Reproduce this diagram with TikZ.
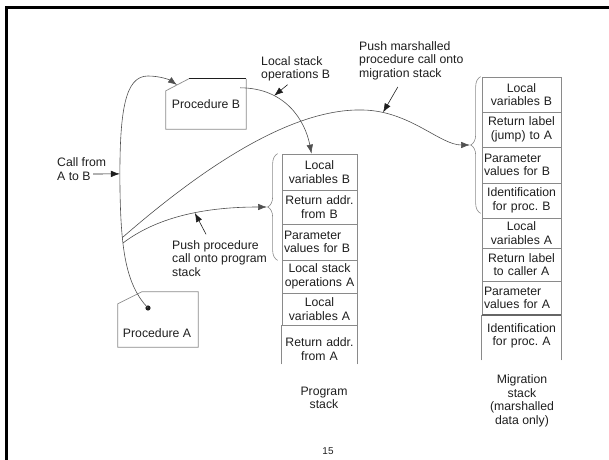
\documentclass[tikz,border=0pt]{standalone}
\usepackage{fontspec}
\setmainfont{Liberation Sans}
\usetikzlibrary{arrows.meta,calc,decorations.pathreplacing}
\definecolor{ink}{HTML}{1E1E1E}
\definecolor{cellgray}{HTML}{8A8A8A}
\definecolor{curvegray}{HTML}{505050}
\newcommand{\lblfont}{\fontsize{12.3}{13.6}\selectfont\frenchspacing}

\tikzset{
  cell/.style={draw=cellgray,line width=0.7bp,inner xsep=2bp,inner ysep=0pt,align=center,font=\lblfont,text=ink},
  pcell/.style={cell,text width=71bp},
  mcell/.style={cell,text width=75bp},
  opencell/.style={draw=none},
  lbl/.style={font=\lblfont,text=ink,align=left,inner sep=1bp},
  edgegray/.style={cellgray,line width=0.7bp},
  flow/.style={curvegray,line width=0.6bp},
  pointer/.style={ink,line width=0.6bp},
  curly/.style={cellgray,line width=0.6bp,decorate,decoration={brace,amplitude=10bp,aspect=0.5}},
}

\begin{document}
\begin{tikzpicture}[x=1bp,y=-1bp,>={Latex[length=9bp,width=6.5bp]}]
\useasboundingbox (0,0) rectangle (609,460);
\draw[line width=3bp] (6,460) -- (6,8) -- (609,8);

% the two procedures, with a cut corner
\node[lbl,align=center,minimum width=80bp,minimum height=50bp] (procB) at (206,104) {Procedure B};
\draw[edgegray] ([xshift=23bp]procB.north west) -- ([yshift=-12bp]procB.north west) -- (procB.south west) -- (procB.south east) -- (procB.north east);
\draw[ink,line width=0.7bp] ([xshift=23bp]procB.north west) -- (procB.north east);
\node[minimum width=80bp,minimum height=55bp,inner sep=0pt] (procA) at (158,319.5) {};
\draw[edgegray] ([yshift=-12bp]procA.north west) -- ([xshift=24bp]procA.north west) -- (procA.north east) -- (procA.south east) -- (procA.south west) -- cycle;
\node[lbl] (procAlbl) at (157,333) {Procedure A};
\coordinate (calldot) at (148,308);
\coordinate (procBin) at (177,85);
\fill[ink] (calldot) circle (2.6bp);

% program stack
\node[pcell,minimum height=36bp] (ps1) at (319.5,172) {Local\\variables B};
\node[pcell,minimum height=34bp] (ps2) at (319.5,207) {Return addr.\\from B};
\node[pcell,minimum height=36bp,align=left] (ps3) at (319.5,242) {Parameter\\values for B};
\node[pcell,minimum height=33bp] (ps4) at (319.5,276.5) {Local stack\\operations A};
\node[pcell,minimum height=32bp] (ps5) at (319.5,309) {Local\\variables A};
\node[pcell,opencell,minimum height=48bp] (ps6) at (319.5,349) {Return addr.\\from A};
\draw[edgegray] ([yshift=9bp]ps6.south west) -- (ps6.north west) ([yshift=9bp]ps6.south east) -- (ps6.north east);
\node[lbl,align=center] (pslbl) at (324,398) {Program\\stack};

% migration stack
\node[mcell,minimum height=35bp] (ms1) at (521.5,94.5) {Local\\variables B};
\node[mcell,minimum height=35bp] (ms2) at (521.5,129.5) {Return label\\(jump) to A};
\node[mcell,minimum height=36bp,align=left] (ms3) at (521.5,165) {Parameter\\values for B};
\node[mcell,minimum height=35bp] (ms4) at (521.5,200.5) {Identification\\for proc. B};
\node[mcell,minimum height=30bp] (ms5) at (521.5,233) {Local\\variables A};
\node[mcell,minimum height=33bp] (ms6) at (521.5,264.5) {Return label\\to caller A};
\node[mcell,minimum height=34bp,align=left] (ms7) at (521.5,298) {Parameter\\values for A};
\node[mcell,opencell,minimum height=48bp] (ms8) at (521.5,336) {Identification\\for proc. A};
\draw[edgegray] (ms8.south west) -- (ms7.south west) (ms8.south east) -- (ms7.south east);
\draw[black!60,line width=1.8bp] (ms7.south west) -- (ms7.south east);
\node[lbl,align=center] (mslbl) at (522,401) {Migration\\stack\\(marshalled\\data only)};

% braces round the pushed frames
\draw[curly] ([xshift=-4bp]ps3.south west) -- ([xshift=-4bp]ps1.north west);
\draw[curly] ([xshift=-1bp,yshift=5bp]ms4.south west) -- ([xshift=-1bp]ms1.north west);
\coordinate (psbrace) at (267,207);
\coordinate (msbrace) at (470,145);

% call from A to B and the two pushes
\draw[flow,->] (calldot) .. controls (126,285) and (121,250) .. (120,190)
  coordinate[pos=0.66] (forkprog) coordinate[pos=0.7] (forkmig)
  .. controls (119,110) and (125,76) .. (148,76) coordinate[pos=0.07] (callpt)
  .. controls (160,76) and (170,80) .. (procBin);
\draw[flow,->] (forkmig) .. controls (200,170) and (290,108) .. (363,110)
  .. controls (410,111) and (440,145) .. (msbrace) coordinate[pos=0.15] (pmpt);
\draw[flow,->] (forkprog) .. controls (160,215) and (210,207) .. (psbrace) coordinate[pos=0.55] (pppt);
\draw[flow,->] ([xshift=-6bp,yshift=-9bp]procB.north east) .. controls (285,88) and (305,120) .. ([xshift=-8bp]ps1.north) coordinate[pos=0.3] (lsoBpt);

% labels and their pointers
\node[lbl,anchor=west] (calllbl) at (56,169) {Call from\\A to B};
\coordinate (calltail) at (93,174);
\draw[pointer,->] (calltail) -- (callpt);
\node[lbl,anchor=west] (lsoB) at (260,69) {Local stack\\operations B};
\draw[pointer,->] ([xshift=-8bp,yshift=-2bp]lsoB.south) -- (lsoBpt);
\node[lbl,anchor=west] (pmlbl) at (358,60.5) {Push marshalled\\procedure call onto\\migration stack};
\draw[pointer,->] ([xshift=-13.5bp,yshift=-6bp]pmlbl.south) -- (pmpt);
\node[lbl,anchor=west] (pplbl) at (171,258.5) {Push procedure\\call onto program\\stack};
\draw[pointer,->] ([xshift=-13.5bp,yshift=5bp]pplbl.north) -- (pppt);

\node[font=\fontsize{10}{12}\selectfont,text=ink] (pageno) at (328,451) {15};
\end{tikzpicture}
\end{document}
